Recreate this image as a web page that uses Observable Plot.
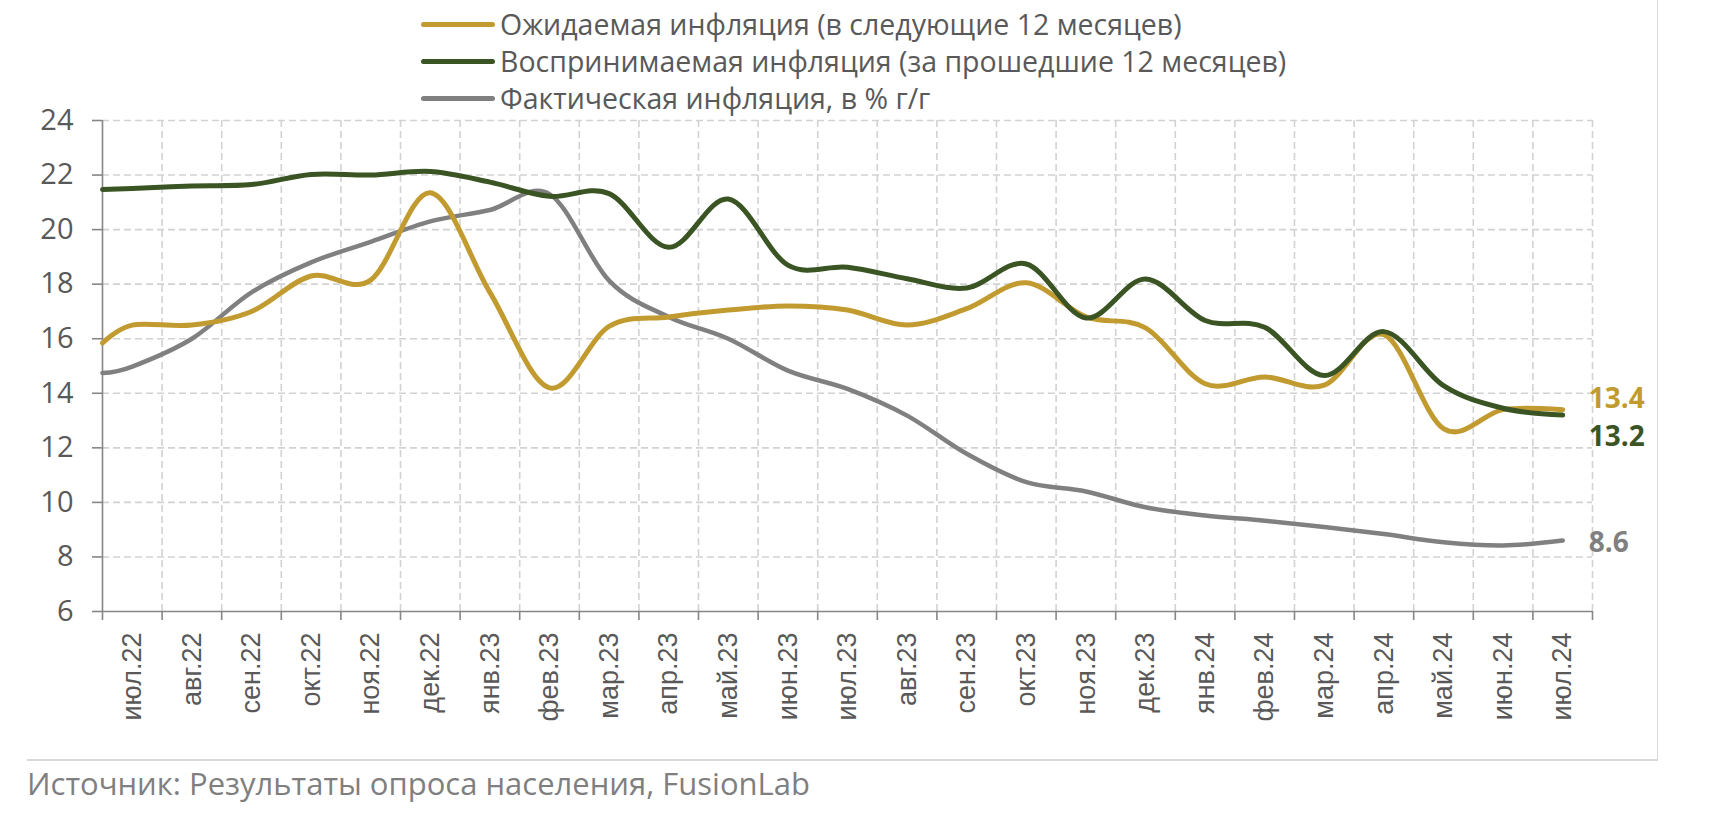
<!DOCTYPE html>
<html>
<head>
<meta charset="utf-8">
<script src="https://cdn.jsdelivr.net/npm/d3@7"></script>
<script src="https://cdn.jsdelivr.net/npm/@observablehq/plot@0.6"></script>
<style>
  html, body { margin: 0; padding: 0; background: #fff; }
  #page { position: relative; width: 1710px; height: 820px; overflow: hidden; }
  #wrap { position: relative; width: 1657px; height: 760px; border-right: 1px solid #d9d9d9; }
  #legend { position: relative; height: 96px; font-family: "Open Sans", sans-serif; color: #595959; }
  .item { position: absolute; left: 421px; height: 30px; line-height: 30px; display: flex; align-items: center; font-size: 28.5px; white-space: nowrap; }
  .sw { width: 74px; height: 5px; border-radius: 3px; margin-right: 5px; }
  #chart svg { display: block; }
  #footline { position: absolute; left: 27px; top: 759px; width: 1631px; height: 2px; background: #d9d9d9; }
  #source { position: absolute; left: 27px; top: 763px; height: 40px; line-height: 40px; font-family: "Open Sans", sans-serif; font-size: 31px; color: #7f7f7f; white-space: nowrap; }
</style>
</head>
<body>
<div id="page">
  <div id="wrap">
    <div id="legend"></div>
    <div id="chart"></div>
  </div>
  <div id="footline"></div>
  <div id="source"></div>
</div>
<script>
// ---- data ----
const months = ["июл.22","авг.22","сен.22","окт.22","ноя.22","дек.22","янв.23","фев.23","мар.23","апр.23","май.23","июн.23","июл.23","авг.23","сен.23","окт.23","ноя.23","дек.23","янв.24","фев.24","мар.24","апр.24","май.24","июн.24","июл.24"];
const expected  = [16.5, 16.5, 17.0, 18.3, 18.15, 21.35, 17.7, 14.2, 16.45, 16.8, 17.05, 17.2, 17.05, 16.5, 17.1, 18.05, 16.8, 16.4, 14.35, 14.6, 14.3, 16.15, 12.7, 13.4, 13.4];
const perceived = [21.51, 21.6, 21.65, 22.02, 22.0, 22.13, 21.74, 21.22, 21.32, 19.35, 21.12, 18.7, 18.62, 18.2, 17.86, 18.74, 16.76, 18.19, 16.67, 16.42, 14.65, 16.26, 14.28, 13.45, 13.2];
const actual    = [14.98, 16.0, 17.7, 18.8, 19.55, 20.3, 20.72, 21.3, 18.13, 16.8, 16.0, 14.83, 14.16, 13.18, 11.78, 10.74, 10.4, 9.82, 9.52, 9.33, 9.1, 8.84, 8.54, 8.42, 8.6];
// value of each line where it meets the left axis (lines run in from the left edge)
const edgeValues = [15.84, 21.47, 14.74];
const seriesNames = ["Ожидаемая инфляция (в следующие 12 месяцев)", "Воспринимаемая инфляция (за прошедшие 12 месяцев)", "Фактическая инфляция, в % г/г"];
const seriesColors = ["#C29B30", "#3B5424", "#808080"];
const lastLabels = ["13.4", "13.2", "8.6"];
const yTicks = [6, 8, 10, 12, 14, 16, 18, 20, 22, 24];
const sourceText = "Источник: Результаты опроса населения, FusionLab";

// ---- legend ----
const legend = document.getElementById("legend");
seriesNames.forEach((name, k) => {
  const it = document.createElement("div");
  it.className = "item";
  it.style.top = (9 + k * 37) + "px";
  const sw = document.createElement("span");
  sw.className = "sw";
  sw.style.background = seriesColors[k];
  const tx = document.createElement("span");
  tx.textContent = name;
  it.appendChild(sw); it.appendChild(tx);
  legend.appendChild(it);
});
document.getElementById("source").textContent = sourceText;

// ---- table ----
const allSeries = [expected, perceived, actual];
const rows = [];
allSeries.forEach((arr, k) => {
  rows.push({s: k, x: 0, y: edgeValues[k]});
  arr.forEach((v, i) => rows.push({s: k, x: i + 0.5, y: v, i}));
});
const lastRows = allSeries.map((arr, k) => ({s: k, x: arr.length - 0.5, y: arr[arr.length - 1], label: lastLabels[k]}));
const n = months.length;
const boundaries = d3.range(1, n + 1);
const allTicks = d3.range(0, n + 1);
const centers = d3.range(n).map(i => i + 0.5);
const labelDy = [-11, 22, 2];

const grid = {stroke: "#d2d2d2", strokeWidth: 1.6, strokeDasharray: "7,4", strokeOpacity: 1};

const chart = Plot.plot({
  width: 1657,
  height: 644,
  marginTop: 24,
  marginLeft: 102,
  marginRight: 65,
  marginBottom: 129,
  style: {fontFamily: "Open Sans, sans-serif", fontSize: "27px", color: "#595959", background: "transparent"},
  x: {type: "linear", domain: [0, n], axis: null},
  y: {domain: [6, 24], axis: null},
  marks: [
    Plot.ruleY(yTicks.filter(t => t > 6), {...grid}),
    Plot.ruleX(boundaries, {...grid}),
    Plot.ruleY([6], {stroke: "#868686", strokeWidth: 1.6}),
    Plot.ruleX([0], {stroke: "#868686", strokeWidth: 1.6}),
    Plot.axisY({ticks: yTicks, label: null, tickSize: 10, tickPadding: 19, stroke: "#868686", strokeWidth: 1.6, fill: "#595959", fontSize: 29, fontFamily: "Open Sans, sans-serif", tickFormat: d => String(d)}),
    Plot.axisX({ticks: allTicks, label: null, tickSize: 9, tickFormat: () => "", stroke: "#868686", strokeWidth: 1.6}),
    Plot.axisX({ticks: centers, label: null, tickSize: 0, tickPadding: 21, tickRotate: -90, tickFormat: d => months[Math.round(d - 0.5)], fill: "#595959", fontSize: 27, fontFamily: "Liberation Sans, Arial, sans-serif"}),
    ...[2, 0, 1].map(k => Plot.line(rows.filter(r => r.s === k), {x: "x", y: "y", stroke: seriesColors[k], strokeWidth: k === 2 ? 4.5 : 5, curve: "cardinal", strokeLinecap: "round"})),
    ...[0, 1, 2].map(k => Plot.text([lastRows[k]], {x: "x", y: "y", text: "label", fill: seriesColors[k], dx: 26, dy: labelDy[k], textAnchor: "start", fontWeight: "bold", fontSize: 28, fontFamily: "Open Sans, sans-serif"}))
  ]
});
document.getElementById("chart").appendChild(chart);
</script>
</body>
</html>
